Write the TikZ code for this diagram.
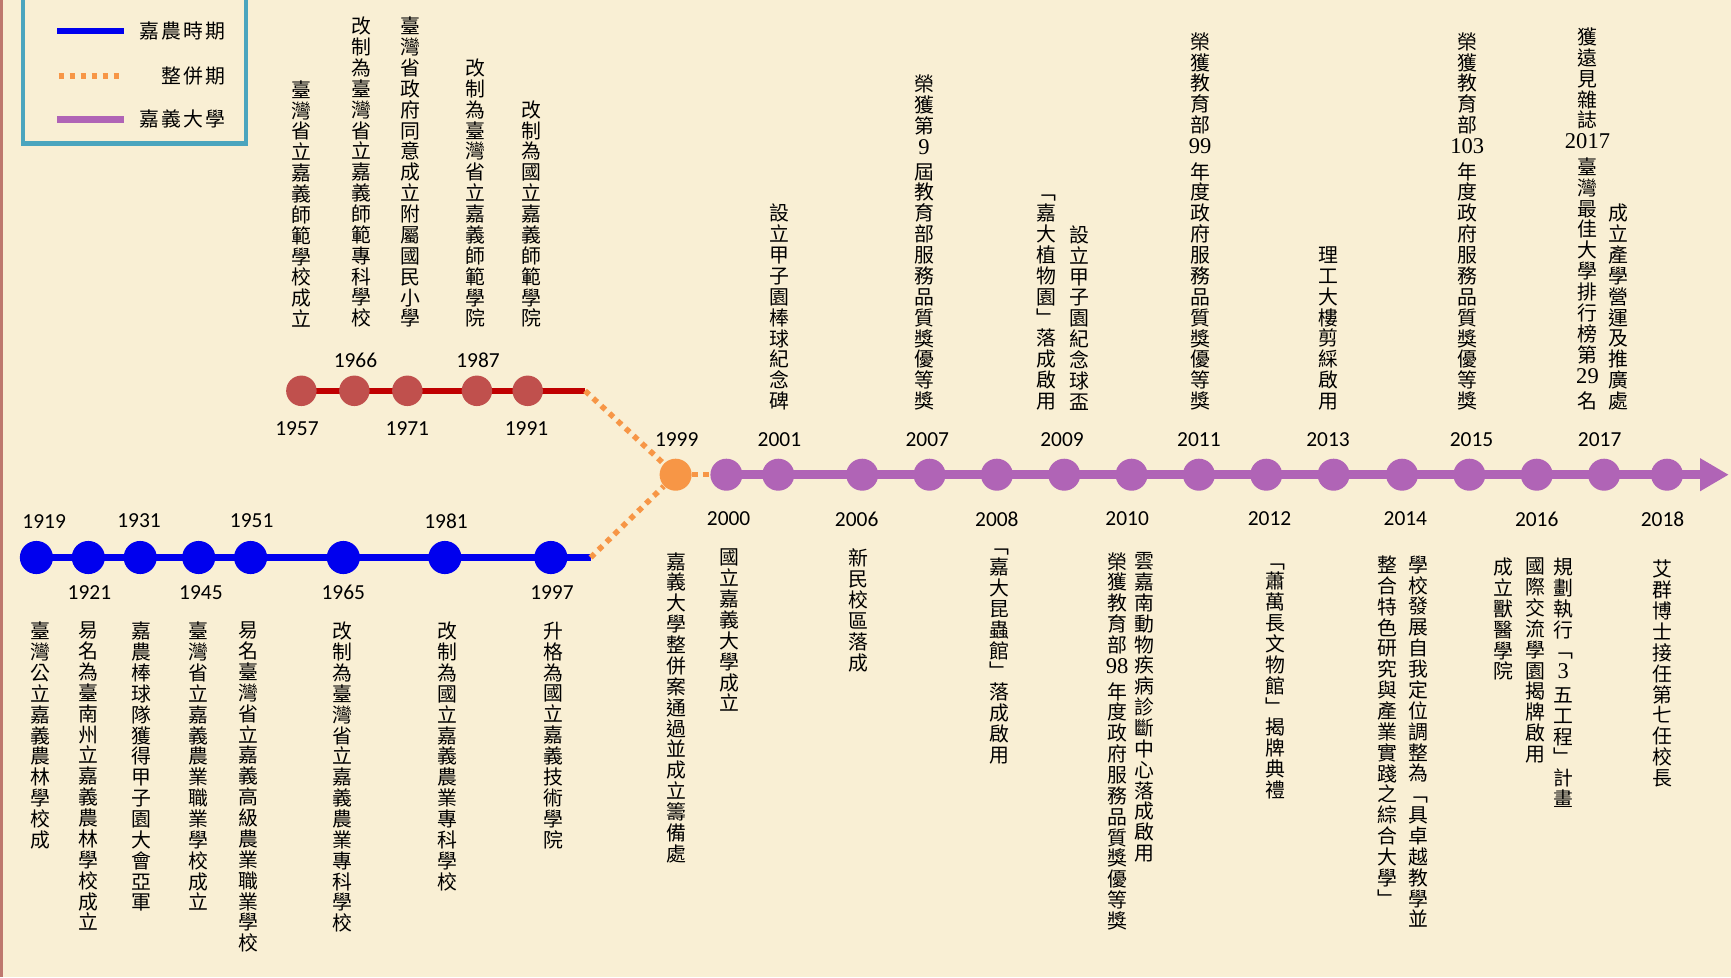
\documentclass[tikz,border=0pt]{standalone}
\usepackage{fontspec}
\setmainfont{Noto Sans CJK TC}
\newfontfamily\yearfont{Carlito}
\newfontfamily\numfont{Liberation Serif}
\usetikzlibrary{arrows.meta}
\pgfdeclarelayer{paperlayer}
\pgfdeclarelayer{linelayer}
\pgfsetlayers{paperlayer,linelayer,main}
\definecolor{paper}{RGB}{249,239,212}
\definecolor{bluec}{RGB}{0,0,238}
\definecolor{redline}{RGB}{192,0,0}
\definecolor{redc}{RGB}{192,80,77}
\definecolor{purc}{RGB}{176,100,182}
\definecolor{orac}{RGB}{247,150,70}
\definecolor{legendc}{RGB}{75,165,190}
\definecolor{edgec}{RGB}{190,120,110}
\ExplSyntaxOn
\NewDocumentCommand\vt{m}{
  \vbox{\baselineskip=9.45pt\lineskiplimit=0pt\lineskip=0pt
    \tl_map_inline:nn {#1} {\hbox_to_wd:nn {10pt} {\hss ##1 \hss}}}
}
\NewDocumentCommand\hz{m}{
  \tl_map_inline:nn {#1} {\hbox_to_wd:nn {10pt} {\hss ##1 \hss}}
}
\ExplSyntaxOff
\newcommand\nm[1]{{\numfont\fontsize{10.2pt}{10pt}\selectfont\rule[-4pt]{0pt}{10.5pt}#1}}
\begin{document}
\begin{tikzpicture}[x=0.5pt,y=-0.5pt,
  cjk/.style={inner sep=0pt,font=\fontsize{9pt}{9.45pt}\selectfont},
  uptext/.style={cjk,anchor=south},
  downtext/.style={cjk,anchor=north},
  yr/.style={inner sep=0pt,font=\yearfont\fontsize{9.7pt}{10pt}\selectfont},
  bdot/.style={circle,fill=bluec,minimum size=15pt,inner sep=0pt},
  rdot/.style={circle,fill=redc,minimum size=13.8pt,inner sep=0pt},
  pdot/.style={circle,fill=purc,minimum size=14.5pt,inner sep=0pt},
  odot/.style={circle,fill=orac,minimum size=14.5pt,inner sep=0pt},
  bline/.style={bluec,line width=3pt},
  rline/.style={redline,line width=2.5pt},
  pline/.style={purc,line width=4pt,-{Triangle[length=13pt,width=14pt]}},
  oline/.style={orac,line width=2.5pt,dash pattern=on 2.5pt off 2.5pt},
  legtext/.style={cjk,anchor=east}]
\useasboundingbox (0,0) rectangle (1568,885);
\begin{pgfonlayer}{paperlayer}
  \fill[paper] (0,0) rectangle (1568,885);
  \draw[edgec,line width=1.5pt] (1,0) -- (1,885);
\end{pgfonlayer}

% legend
\draw[legendc,line width=2pt] (21,-10) rectangle (223,130);
\coordinate (lb1) at (52,28); \coordinate (lb2) at (112,28);
\coordinate (lo1) at (53,69); \coordinate (lo2) at (110,69);
\coordinate (lp1) at (52,108); \coordinate (lp2) at (112,108);
\draw[bline] (lb1) -- (lb2);
\draw[oline] (lo1) -- (lo2);
\draw[purc,line width=3pt] (lp1) -- (lp2);
\node[legtext] (legA) at (206,28) {\hz{嘉農時期}};
\node[legtext] (legB) at (206,69) {\hz{整併期}};
\node[legtext] (legC) at (206,108) {\hz{嘉義大學}};

% blue timeline
\node[bdot] (b1919) at (33,505) {};
\node[bdot] (b1921) at (80,505) {};
\node[bdot] (b1931) at (127,505) {};
\node[bdot] (b1945) at (180,505) {};
\node[bdot] (b1951) at (227,505) {};
\node[bdot] (b1965) at (311,505) {};
\node[bdot] (b1981) at (403,505) {};
\node[bdot] (b1997) at (499,505) {};
\coordinate (bEnd) at (535,505);

% red timeline
\node[rdot] (r1957) at (273,354) {};
\node[rdot] (r1966) at (321,354) {};
\node[rdot] (r1971) at (369,354) {};
\node[rdot] (r1987) at (432,354) {};
\node[rdot] (r1991) at (478,354) {};
\coordinate (rEnd) at (530,354);

% orange
\node[odot] (o1999) at (612,430) {};

% purple timeline
\node[pdot] (p2000) at (658,430) {};
\node[pdot] (p2001) at (705,430) {};
\node[pdot] (p2006) at (781,430) {};
\node[pdot] (p2007) at (842,430) {};
\node[pdot] (p2008) at (903,430) {};
\node[pdot] (p2009) at (964,430) {};
\node[pdot] (p2010) at (1025,430) {};
\node[pdot] (p2011) at (1086,430) {};
\node[pdot] (p2012) at (1147,430) {};
\node[pdot] (p2013) at (1208,430) {};
\node[pdot] (p2014) at (1270,430) {};
\node[pdot] (p2015) at (1331,430) {};
\node[pdot] (p2016) at (1392,430) {};
\node[pdot] (p2017) at (1453,430) {};
\node[pdot] (p2018) at (1510,430) {};
\coordinate (pEnd) at (1566,430);

\begin{pgfonlayer}{linelayer}
  \draw[bline] (b1919.center) -- (bEnd);
  \draw[rline] (r1957.center) -- (rEnd);
  \draw[pline] (p2000.center) -- (pEnd);
  \draw[oline] (rEnd) -- (o1999);
  \draw[oline] (bEnd) -- (o1999);
  \draw[oline] (o1999) -- (p2000);
\end{pgfonlayer}

% years blue
\node[yr] (y1919) at (40,472) {1919};
\node[yr] (y1931) at (126,472) {1931};
\node[yr] (y1951) at (228,472) {1951};
\node[yr] (y1981) at (404,472) {1981};
\node[yr] (y1921) at (81,537) {1921};
\node[yr] (y1945) at (182,537) {1945};
\node[yr] (y1965) at (311,537) {1965};
\node[yr] (y1997) at (500,537) {1997};
% years red
\node[yr] (y1966) at (322,326) {1966};
\node[yr] (y1987) at (433,326) {1987};
\node[yr] (y1957) at (269,388) {1957};
\node[yr] (y1971) at (369,388) {1971};
\node[yr] (y1991) at (477,388) {1991};
% year orange
\node[yr] (y1999) at (613,398) {1999};
% years purple
\node[yr] (y2001) at (706,398) {2001};
\node[yr] (y2007) at (840,398) {2007};
\node[yr] (y2009) at (962,398) {2009};
\node[yr] (y2011) at (1086,398) {2011};
\node[yr] (y2013) at (1203,398) {2013};
\node[yr] (y2015) at (1333,398) {2015};
\node[yr] (y2017) at (1449,398) {2017};
\node[yr] (y2000) at (660,470) {2000};
\node[yr] (y2006) at (776,470) {2006};
\node[yr] (y2008) at (903,470) {2008};
\node[yr] (y2010) at (1021,470) {2010};
\node[yr] (y2012) at (1150,470) {2012};
\node[yr] (y2014) at (1273,470) {2014};
\node[yr] (y2016) at (1392,470) {2016};
\node[yr] (y2018) at (1506,470) {2018};

% top-left texts
\node[uptext] (t1957) at (273,297) {\vt{臺灣省立嘉義師範學校成立}};
\node[uptext] (t1966) at (327,297) {\vt{改制為臺灣省立嘉義師範專科學校}};
\node[uptext] (t1971) at (372,297) {\vt{臺灣省政府同意成立附屬國民小學}};
\node[uptext] (t1987) at (431,297) {\vt{改制為臺灣省立嘉義師範學院}};
\node[uptext] (t1991) at (481,297) {\vt{改制為國立嘉義師範學院}};

% top-right texts
\node[uptext] (t2001) at (706,372) {\vt{設立甲子園棒球紀念碑}};
\node[uptext] (t2007) at (837,372) {\vt{榮獲第{\nm{9}}屆教育部服務品質獎優等獎}};
\node[uptext] (t2009a) at (948,372) {\vt{﹁嘉大植物園﹂落成啟用}};
\node[uptext] (t2009b) at (978,372) {\vt{設立甲子園紀念球盃}};
\node[uptext] (t2011) at (1087,372) {\vt{榮獲教育部{\nm{99}}年度政府服務品質獎優等獎}};
\node[uptext] (t2013) at (1203,372) {\vt{理工大樓剪綵啟用}};
\node[uptext] (t2015) at (1329,372) {\vt{榮獲教育部{\nm{103}}年度政府服務品質獎優等獎}};
\node[uptext] (t2017a) at (1438,372) {\vt{獲遠見雜誌{\nm{2017}}臺灣最佳大學排行榜第{\nm{29}}名}};
\node[uptext] (t2017b) at (1466,372) {\vt{成立產學營運及推廣處}};

% bottom texts
\node[downtext] (t1919) at (37,563) {\vt{臺灣公立嘉義農林學校成}};
\node[downtext] (t1921) at (80,563) {\vt{易名為臺南州立嘉義農林學校成立}};
\node[downtext] (t1931) at (128,563) {\vt{嘉農棒球隊獲得甲子園大會亞軍}};
\node[downtext] (t1945) at (180,563) {\vt{臺灣省立嘉義農業職業學校成立}};
\node[downtext] (t1951) at (225,563) {\vt{易名臺灣省立嘉義高級農業職業學校}};
\node[downtext] (t1965) at (310,563) {\vt{改制為臺灣省立嘉義農業專科學校}};
\node[downtext] (t1981) at (405,563) {\vt{改制為國立嘉義農業專科學校}};
\node[downtext] (t1997) at (501,563) {\vt{升格為國立嘉義技術學院}};
\node[downtext] (t1999) at (613,500) {\vt{嘉義大學整併案通過並成立籌備處}};
\node[downtext] (t2000) at (661,497) {\vt{國立嘉義大學成立}};
\node[downtext] (t2006) at (778,497) {\vt{新民校區落成}};
\node[downtext] (t2008) at (905,497) {\vt{﹁嘉大昆蟲館﹂落成啟用}};
\node[downtext] (t2010a) at (1012,500) {\vt{榮獲教育部{\nm{98}}年度政府服務品質獎優等獎}};
\node[downtext] (t2010b) at (1037,500) {\vt{雲嘉南動物疾病診斷中心落成啟用}};
\node[downtext] (t2012) at (1155,510) {\vt{﹁蕭萬長文物館﹂揭牌典禮}};
\node[downtext] (t2014a) at (1257,503) {\vt{整合特色研究與產業實踐之綜合大學﹂}};
\node[downtext] (t2014b) at (1285,503) {\vt{學校發展自我定位調整為﹁具卓越教學並}};
\node[downtext] (t2016a) at (1362,505) {\vt{成立獸醫學院}};
\node[downtext] (t2016b) at (1391,505) {\vt{國際交流學園揭牌啟用}};
\node[downtext] (t2016c) at (1416,505) {\vt{規劃執行﹁{\nm{3}}五工程﹂計畫}};
\node[downtext] (t2018) at (1506,507) {\vt{艾群博士接任第七任校長}};
\end{tikzpicture}
\end{document}
